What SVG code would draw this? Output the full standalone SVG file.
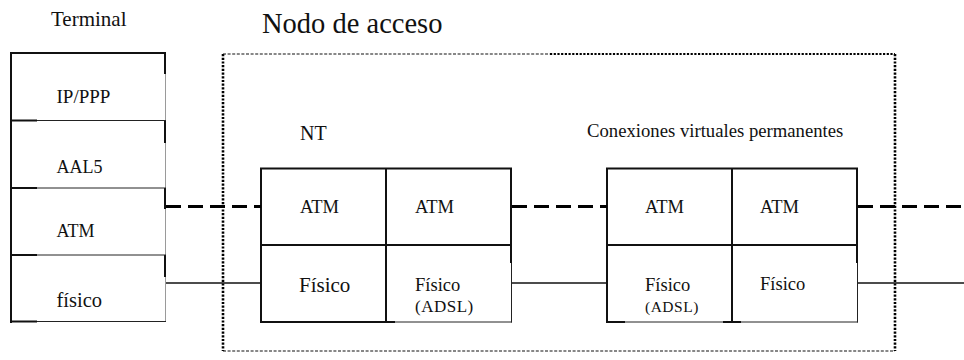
<svg xmlns="http://www.w3.org/2000/svg" width="964" height="360" viewBox="0 0 964 360" font-family="'Liberation Serif', 'DejaVu Serif', 'Times New Roman', Times, serif">
  <style>
    text { font-family: "Liberation Serif", "DejaVu Serif", "Times New Roman", Times, serif; fill: #111; }
    .thick { stroke: #111; stroke-width: 2; fill: none; }
    .thin { stroke: #222; stroke-width: 1; fill: none; }
    .faint { stroke: #9a9a9a; stroke-width: 1; fill: none; }
    .dots { stroke: #000; stroke-width: 2.6; stroke-dasharray: 2.2 1.5; fill: none; }
    .fine { stroke: #111; stroke-width: 1.2; stroke-dasharray: 3 1.6; fill: none; }
    .virtual { stroke: #000; stroke-width: 3; stroke-dasharray: 15 7; fill: none; }
    .physical { stroke: #111; stroke-width: 1.4; fill: none; }
    .lbl { font-size: 18px; }
    .sm { font-size: 18.5px; }
  </style>

  <!-- Access node boundary -->
  <g id="nodo-acceso">
    <line class="dots" x1="223" y1="54" x2="223" y2="351"/>
    <line class="fine" x1="223" y1="54" x2="550" y2="54"/>
    <line class="dots" style="stroke-width:1.8" x1="550" y1="54" x2="895" y2="54"/>
    <line class="dots" x1="895" y1="54" x2="895" y2="351"/>
    <line class="fine" x1="223" y1="351" x2="895" y2="351"/>
    <text x="262" y="33" style="font-size:28.5px">Nodo de acceso</text>
  </g>

  <!-- Terminal protocol stack -->
  <g id="terminal">
    <text x="51" y="26" style="font-size:21px">Terminal</text>
    <line class="thick" x1="11" y1="52" x2="11" y2="323"/>
    <line class="thick" x1="10" y1="53" x2="166" y2="53"/>
    <line class="faint" x1="165.5" y1="53" x2="165.5" y2="322"/>
    <line class="thick" x1="165" y1="53" x2="165" y2="74"/>
    <line class="thick" x1="165" y1="121" x2="165" y2="143"/>
    <line class="thick" x1="165" y1="188" x2="165" y2="209"/>
    <line class="thick" x1="165" y1="255" x2="165" y2="277"/>
    <line class="thin" x1="11" y1="120.5" x2="166" y2="120.5"/>
    <line class="thin" x1="11" y1="188" x2="166" y2="188"/>
    <line class="thin" x1="11" y1="255" x2="166" y2="255"/>
    <line class="thin" x1="11" y1="321.5" x2="166" y2="321.5"/>
    <line class="thick" x1="11" y1="120.5" x2="37" y2="120.5"/>
    <line class="thick" x1="11" y1="188" x2="37" y2="188"/>
    <line class="thick" x1="11" y1="255" x2="37" y2="255"/>
    <line class="thick" x1="11" y1="321.5" x2="37" y2="321.5"/>
    <text x="56.5" y="103" style="font-size:19px">IP/PPP</text>
    <text class="lbl" x="56.5" y="173">AAL5</text>
    <text class="lbl" x="56.5" y="237">ATM</text>
    <text x="56.5" y="307" style="font-size:20.5px">físico</text>
  </g>

  <!-- NT -->
  <g id="nt">
    <text x="300" y="140" style="font-size:20px">NT</text>
    <line class="thick" x1="260" y1="168.5" x2="512" y2="168.5"/>
    <line class="thick" x1="261" y1="168" x2="261" y2="323"/>
    <line class="thick" x1="386" y1="168" x2="386" y2="323"/>
    <line class="thick" x1="261" y1="245" x2="512" y2="245"/>
    <line class="thick" x1="511" y1="168" x2="511" y2="263"/>
    <line class="thin" x1="511.5" y1="263" x2="511.5" y2="322.5"/>
    <line class="thick" x1="260" y1="322" x2="395" y2="322"/>
    <line class="thin" x1="395" y1="322" x2="512" y2="322"/>
    <text class="sm" x="300" y="213">ATM</text>
    <text class="sm" x="415" y="213">ATM</text>
    <text x="299" y="291.5" style="font-size:21px">Físico</text>
    <text class="sm" x="415" y="291">Físico</text>
    <text x="415" y="311.5" style="font-size:17px;letter-spacing:0.5px">(ADSL)</text>
  </g>

  <!-- Permanent virtual connections node -->
  <g id="nodo-pvc">
    <text x="587" y="137" style="font-size:18.7px">Conexiones virtuales permanentes</text>
    <line class="thick" x1="606" y1="168.5" x2="858" y2="168.5"/>
    <line class="thick" x1="607" y1="168" x2="607" y2="323"/>
    <line class="thick" x1="732" y1="168" x2="732" y2="323"/>
    <line class="thick" x1="607" y1="245" x2="858" y2="245"/>
    <line class="thick" x1="857" y1="168" x2="857" y2="263"/>
    <line class="thin" x1="857.5" y1="263" x2="857.5" y2="322.5"/>
    <line class="thin" x1="607" y1="322" x2="858" y2="322"/>
    <line class="thick" x1="607" y1="322" x2="625" y2="322"/>
    <line class="thick" x1="723" y1="322" x2="741" y2="322"/>
    <text class="sm" x="645" y="213">ATM</text>
    <text class="sm" x="760" y="213">ATM</text>
    <text class="sm" x="645" y="291">Físico</text>
    <text x="645" y="311.5" style="font-size:15.5px;letter-spacing:0.5px">(ADSL)</text>
    <text class="sm" x="760" y="290">Físico</text>
  </g>

  <!-- Connectors: virtual ATM path (dashed) and physical links (solid) -->
  <g id="connectors">
    <line class="virtual" x1="166" y1="206.5" x2="261" y2="206.5"/>
    <line class="virtual" x1="512" y1="206.5" x2="607" y2="206.5"/>
    <line class="virtual" x1="858" y1="206.5" x2="964" y2="206.5"/>
    <line class="physical" x1="166" y1="283" x2="261" y2="283"/>
    <line class="physical" x1="512" y1="283" x2="607" y2="283"/>
    <line class="physical" x1="858" y1="283" x2="964" y2="283"/>
  </g>
</svg>
